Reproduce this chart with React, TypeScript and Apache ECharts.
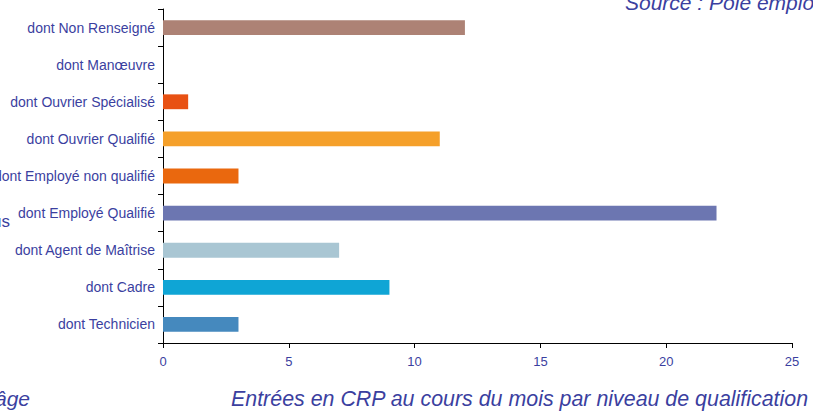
import React, { useEffect, useRef } from "react";
import * as echarts from "echarts";

const categories = [
  "dont Technicien",
  "dont Cadre",
  "dont Agent de Maîtrise",
  "dont Employé Qualifié",
  "dont Employé non qualifié",
  "dont Ouvrier Qualifié",
  "dont Ouvrier Spécialisé",
  "dont Manœuvre",
  "dont Non Renseigné",
];
const values = [3, 9, 7, 22, 3, 11, 1, 0, 12];
const colors = [
  "#4589BE",
  "#0FA5D5",
  "#A9C6D3",
  "#6C76B1",
  "#EA680E",
  "#F5A02A",
  "#E85113",
  "#888888",
  "#AD8275",
];

const textColor = "#3B3F9F";
const fam = "'Liberation Sans', Arial, sans-serif";

export default function App() {
  const ref = useRef<HTMLDivElement>(null);
  useEffect(() => {
    if (!ref.current) return;
    const chart = echarts.init(ref.current, undefined, { renderer: "svg" });
    chart.setOption({
      animation: false,
      backgroundColor: "#ffffff",
      grid: {
        left: 163,
        right: 21,
        top: 9,
        bottom: 71,
        containLabel: false,
        outerBoundsMode: "none",
      },
      xAxis: {
        type: "value",
        min: 0,
        max: 25,
        interval: 5,
        splitLine: { show: false },
        axisLine: { show: true, lineStyle: { color: "#000", width: 1 } },
        axisTick: { show: true, length: 5, lineStyle: { color: "#000" } },
        axisLabel: { color: textColor, fontSize: 13, fontFamily: fam, margin: 12 },
      },
      yAxis: {
        type: "category",
        data: categories,
        axisLine: { show: true, lineStyle: { color: "#000", width: 1 } },
        axisTick: { show: true, length: 5, alignWithLabel: false, lineStyle: { color: "#000" } },
        axisLabel: { color: textColor, fontSize: 14, fontFamily: fam, margin: 8 },
      },
      series: [
        {
          type: "bar",
          barCategoryGap: "60%",
          data: values.map((v, i) => ({ value: v, itemStyle: { color: colors[i] } })),
        },
      ],
      graphic: [
        {
          type: "text",
          left: 625,
          top: -8,
          style: { text: "Source : Pôle emploi", fill: textColor, font: `italic 21px ${fam}` },
        },
        {
          type: "text",
          left: 231,
          top: 388,
          style: {
            text: "Entrées en CRP au cours du mois par niveau de qualification",
            fill: textColor,
            font: `italic 21.4px ${fam}`,
          },
        },
        {
          type: "text",
          right: 783,
          top: 388,
          style: { text: "Entrées par âge", fill: textColor, font: `italic 21px ${fam}` },
        },
        {
          type: "text",
          right: 803,
          top: 213,
          style: { text: "50 ans et plus", fill: textColor, font: `17px ${fam}` },
        },
      ],
    });
    return () => chart.dispose();
  }, []);
  return <div ref={ref} style={{ width: 813, height: 414, position: "absolute", left: 0, top: 0 }} />;
}
